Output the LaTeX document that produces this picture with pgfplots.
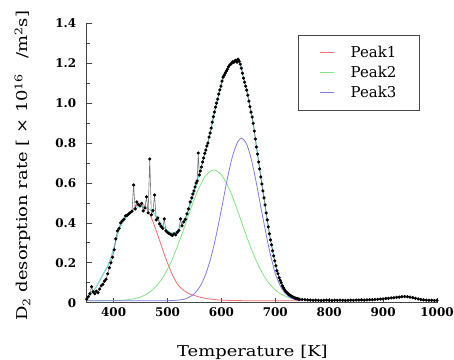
\documentclass[border=0pt]{standalone}
\usepackage{fontspec}
\setmainfont{DejaVu Serif}
\newfontfamily\widefont[FakeStretch=1.2]{DejaVu Serif}
\usepackage{pgfplots}
\pgfplotsset{compat=1.18}
\definecolor{pkred}{RGB}{240,110,110}
\definecolor{pkgreen}{RGB}{130,228,130}
\definecolor{pkblue}{RGB}{125,125,240}
\definecolor{fitcyan}{RGB}{110,228,228}
\definecolor{datgray}{RGB}{120,120,120}
\definecolor{axgray}{RGB}{70,70,70}
\begin{document}
\begin{tikzpicture}
\begin{axis}[
  scale only axis, width=350.3bp, height=279.4bp,
  xmin=350, xmax=1000, ymin=0, ymax=1.4,
  axis lines=left,
  axis line style={-, draw=axgray, line width=0.8pt},
  tick align=inside, major tick length=5bp, minor tick length=3bp,
  every tick/.style={axgray, line width=0.7pt},
  xtick={400,500,600,700,800,900,1000},
  xticklabels={400,500,600,700,800,900,1000},
  ytick={0,0.2,0.4,0.6,0.8,1.0,1.2,1.4},
  yticklabels={0,0.2,0.4,0.6,0.8,1.0,1.2,1.4},
  minor ytick={0.1,0.3,0.5,0.7,0.9,1.1,1.3},
  ticklabel style={font=\bfseries\fontsize{12}{14}\selectfont},
  yticklabel style={xshift=-7bp},
  xticklabel style={yshift=-1bp},
  xlabel={Temperature [K]},
  xlabel style={font=\widefont\fontsize{15}{18}\selectfont, at={(axis description cs:0.473,-0.191)}, anchor=base},
  ylabel={D\textsubscript{2} desorption rate [ × 10\textsuperscript{16}\quad /m\textsuperscript{2}s]},
  ylabel style={font=\widefont\fontsize{15}{18}\selectfont, at={(axis description cs:-0.169,0.49)}, anchor=base},
  legend cell align=left,
  legend image code/.code={\draw[#1, line width=0.9pt] (0bp,0bp) -- (14bp,0bp);},
  legend style={at={(axis description cs:0.951,0.958)}, anchor=north east,
    draw=axgray, line width=0.8pt, fill=white,
    font=\fontsize{15}{17}\selectfont,
    inner xsep=21bp, inner ysep=9bp, row sep=3bp,
    /tikz/every odd column/.append style={column sep=14bp}},
]
% Peak 1
\addplot[pkred, line width=0.8pt, smooth] coordinates {
(350,0.020) (360,0.050) (370,0.090) (380,0.140) (390,0.190) (400,0.270)
(410,0.365) (420,0.415) (430,0.450) (440,0.480) (449,0.498) (455,0.492)
(460,0.477) (465,0.454) (470,0.425) (475,0.391) (480,0.353) (485,0.314)
(490,0.274) (495,0.235) (500,0.199) (505,0.165) (510,0.135) (515,0.109)
(520,0.087) (530,0.062) (540,0.045) (550,0.036) (560,0.028) (570,0.022)
(580,0.018) (590,0.015) (600,0.013) (620,0.011) (650,0.010) (700,0.010)
(750,0.010)};
\addlegendentry{Peak1}
% Peak 2
\addplot[pkgreen, line width=0.8pt, smooth] coordinates {
(350,0.010) (400,0.011) (420,0.013) (440,0.021) (450,0.029) (460,0.041)
(470,0.059) (480,0.086) (490,0.121) (500,0.168) (510,0.226) (520,0.294)
(530,0.368) (540,0.446) (550,0.521) (560,0.585) (570,0.634) (580,0.660)
(586,0.665) (590,0.663) (600,0.641) (610,0.596) (620,0.535) (630,0.461)
(640,0.384) (650,0.308) (660,0.239) (670,0.179) (680,0.130) (690,0.092)
(700,0.064) (710,0.044) (720,0.031) (730,0.022) (740,0.017) (750,0.014)};
\addlegendentry{Peak2}
% Peak 3
\addplot[pkblue, line width=0.8pt, smooth] coordinates {
(350,0.010) (450,0.010) (500,0.010) (520,0.013) (530,0.017) (540,0.027)
(550,0.046) (560,0.080) (570,0.137) (580,0.221) (590,0.334) (600,0.468)
(610,0.608) (620,0.728) (630,0.805) (637.5,0.824) (645,0.804) (650,0.771)
(655,0.723) (660,0.664) (665,0.597) (670,0.525) (675,0.453) (680,0.383)
(685,0.315) (690,0.252) (695,0.196) (700,0.145) (705,0.110) (710,0.080)
(720,0.042) (730,0.022) (740,0.014) (750,0.011)};
\addlegendentry{Peak3}
% Fit (sum)
\addplot[fitcyan, line width=1pt, smooth, forget plot] coordinates {
(350,0.020) (360,0.050) (370,0.090) (376,0.122) (380,0.140) (390,0.190)
(395,0.225) (400,0.270) (405,0.320) (410,0.365) (415,0.395) (420,0.415)
(430,0.445) (440,0.470) (450,0.485) (460,0.478) (470,0.460) (480,0.430)
(490,0.390) (500,0.360) (510,0.348) (520,0.365) (530,0.405) (540,0.470)
(550,0.560) (560,0.655) (570,0.752) (580,0.860) (590,0.985) (600,1.095)
(610,1.165) (620,1.205) (625,1.215) (630,1.218) (635,1.195) (640,1.140)
(645,1.085) (650,1.025) (655,0.955) (660,0.880) (665,0.785) (670,0.690)
(675,0.597) (680,0.505) (685,0.415) (690,0.330) (695,0.260) (700,0.195)
(705,0.145) (710,0.108) (715,0.076) (720,0.056) (730,0.034) (740,0.022)
(750,0.016) (760,0.014) (800,0.012) (850,0.013) (880,0.015) (900,0.019)
(920,0.025) (940,0.030) (960,0.022) (980,0.013) (1000,0.012)};
% Measured data
\addplot[datgray, line width=0.6pt, mark=*, mark size=1.3pt,
  mark options={fill=black, draw=black}, forget plot] coordinates {
(350,0.018) (353,0.030) (356,0.045) (359,0.080) (362,0.055) (365,0.045)
(368,0.058) (371,0.050) (374,0.068) (377,0.085) (380,0.092) (383,0.108)
(386,0.118) (389,0.145) (392,0.175) (395,0.200) (398,0.228) (401,0.265)
(404,0.320) (407,0.360) (410,0.372) (413,0.400) (416,0.410) (419,0.418)
(422,0.435) (425,0.438) (428,0.445) (431,0.452) (434,0.458) (437,0.590)
(440,0.470) (443,0.505) (446,0.492) (449,0.485) (452,0.498) (455,0.460)
(458,0.475) (461,0.530) (464,0.450) (467,0.720) (470,0.440) (473,0.462)
(476,0.540) (479,0.415) (482,0.425) (485,0.395) (488,0.382) (491,0.372)
(494,0.420) (497,0.360) (500,0.352) (503,0.346) (506,0.342) (509,0.336)
(512,0.345) (515,0.340) (518,0.352) (521,0.362) (524,0.420) (527,0.385)
(530,0.405) (533,0.418) (536,0.445) (539,0.470) (542,0.505) (545,0.525)
(547,0.545) (549,0.560) (551,0.580) (553,0.600) (555,0.610) (557,0.750)
(559,0.640) (561,0.660) (563,0.680) (565,0.705) (567,0.725) (569,0.748)
(571,0.765) (573,0.785) (575,0.800) (577,0.830) (579,0.850) (581,0.875)
(583,0.905) (585,0.932) (587,0.955) (589,0.980) (591,1.000) (593,1.020)
(595,1.045) (597,1.066) (599,1.085) (601,1.110) (603,1.130) (605,1.140)
(607,1.150) (609,1.160) (611,1.170) (613,1.182) (615,1.190) (617,1.195)
(619,1.200) (621,1.207) (623,1.205) (625,1.212) (627,1.215) (629,1.205)
(631,1.220) (633,1.210) (635,1.195) (637,1.175) (639,1.150) (641,1.125)
(643,1.105) (645,1.085) (647,1.065) (649,1.040) (651,1.010) (653,0.982)
(655,0.955) (657,0.930) (659,0.899) (661,0.860) (663,0.820) (665,0.780)
(667,0.745) (669,0.705) (671,0.670) (673,0.630) (675,0.595) (677,0.560)
(679,0.525) (681,0.490) (683,0.450) (685,0.415) (687,0.380) (689,0.345)
(691,0.315) (693,0.290) (695,0.260) (697,0.235) (699,0.210) (701,0.185)
(703,0.160) (705,0.145) (707,0.125) (709,0.112) (711,0.100) (713,0.085)
(715,0.075) (717,0.066) (719,0.058) (721,0.052) (723,0.047) (725,0.042)
(727,0.038) (729,0.034) (731,0.031) (733,0.028) (735,0.025) (737,0.023)
(739,0.021) (741,0.020) (743,0.018) (745,0.017) (750,0.016) (755,0.015)
(760,0.014) (765,0.013) (770,0.012) (775,0.013) (780,0.012) (785,0.011)
(790,0.012) (795,0.013) (800,0.012) (805,0.011) (810,0.012) (815,0.012)
(820,0.013) (825,0.012) (830,0.011) (835,0.012) (840,0.013) (845,0.012)
(850,0.013) (855,0.013) (860,0.014) (865,0.013) (870,0.014) (875,0.015)
(880,0.015) (885,0.016) (890,0.017) (895,0.018) (900,0.019) (905,0.021)
(910,0.022) (915,0.024) (920,0.025) (925,0.027) (930,0.028) (935,0.030)
(940,0.031) (945,0.030) (950,0.028) (955,0.025) (960,0.022) (965,0.019)
(970,0.016) (975,0.014) (980,0.013) (985,0.012) (990,0.012) (995,0.011)
(1000,0.012)};
\end{axis}
\pgfresetboundingbox
\path (current axis.south west) ++(-86.7bp,-57.3bp) rectangle ++(454bp,360bp);
\end{tikzpicture}
\end{document}
